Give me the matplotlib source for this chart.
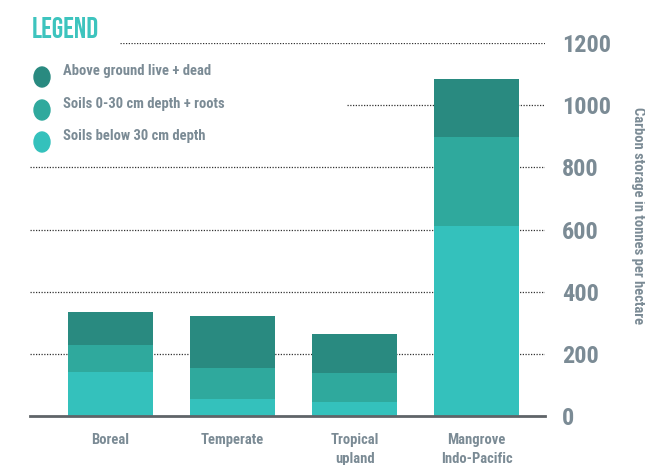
import numpy as np
import matplotlib.pyplot as plt
from matplotlib.patches import Ellipse

plt.rcParams['font.family'] = ['Roboto Condensed', 'DejaVu Sans']

categories = ['Boreal', 'Temperate', 'Tropical\nupland', 'Mangrove\nIndo-Pacific']
below_30 = [142, 55, 45, 612]          # soils below 30 cm depth
soil_0_30 = [87, 100, 93, 284]          # soils 0-30 cm depth + roots
above = [106, 167, 126, 189]            # above ground live + dead
series_names = ['Above ground live + dead', 'Soils 0-30 cm depth + roots', 'Soils below 30 cm depth']
yticks = [0, 200, 400, 600, 800, 1000, 1200]

c_dark = '#298a80'
c_mid = '#2fa99d'
c_light = '#34c1bc'
gray = '#7b8b95'

fig = plt.figure(figsize=(6.45, 4.65), dpi=100)
ax = fig.add_axes([30/645, 1-416/465, 515/645, 373/465])

x = np.arange(len(categories))
w = 0.70
ax.bar(x, below_30, w, color=c_light, zorder=3)
ax.bar(x, soil_0_30, w, bottom=below_30, color=c_mid, zorder=3)
ax.bar(x, above, w, bottom=np.array(below_30) + np.array(soil_0_30), color=c_dark, zorder=3)

ax.set_xlim(-0.66, 3.56)
ax.set_ylim(0, 1200)

# dotted gridlines (upper ones start right of the legend)
starts = {1200: 0.175, 1000: 0.616}
for v in yticks[1:]:
    ax.axhline(v, xmin=starts.get(v, 0), xmax=1, color='#333333', ls=(0, (1, 1.2)), lw=0.9, zorder=1)

for s in ['top', 'left', 'right']:
    ax.spines[s].set_visible(False)
ax.spines['bottom'].set_color('#5f6468')
ax.spines['bottom'].set_linewidth(2)
ax.spines['bottom'].set_zorder(4)

ax.yaxis.tick_right()
ax.set_yticks(yticks)
ax.set_yticklabels([str(v) for v in yticks], fontsize=17.5, fontweight='bold', color=gray)
ax.tick_params(axis='y', length=0, pad=12)
ax.set_xticks(x)
ax.set_xticklabels(categories, fontsize=10.5, fontweight='bold', color=gray, va='top', linespacing=1.45)
ax.tick_params(axis='x', length=0, pad=12)

fig.text(638/645, 1-216/465, 'Carbon storage in tonnes per hectare', rotation=-90,
         ha='center', va='center', fontsize=10.5, fontweight='bold', color=gray)

fig.text(32/645, 1-28/465, 'LEGEND', fontsize=21, color='#3dc4be', va='center',
         family=['Bebas Neue', 'Roboto Condensed', 'DejaVu Sans'])
leg_cols = [c_dark, c_mid, c_light]
leg_y = [77, 110, 142]
for name, col, yy in zip(series_names, leg_cols, leg_y):
    fig.patches.append(Ellipse((42/645, 1-yy/465), 16/645, 20/465, transform=fig.transFigure,
                               color=col, figure=fig))
    fig.text(63/645, 1-(yy-6)/465, name, fontsize=10.5, fontweight='bold', color=gray, va='center')

fig.savefig('out.png', dpi=100)
